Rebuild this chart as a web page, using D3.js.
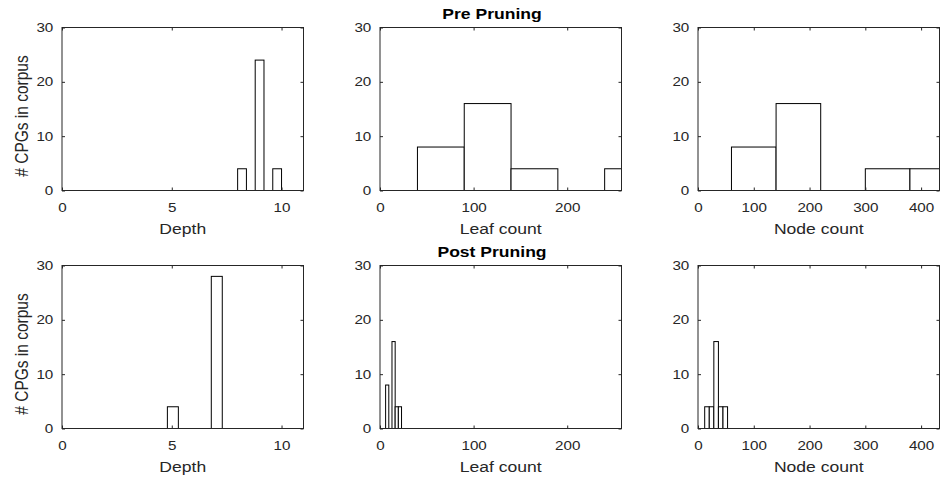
<!DOCTYPE html>
<html>
<head>
<meta charset="utf-8">
<script src="https://cdn.jsdelivr.net/npm/d3@7"></script>
<style>
  body { margin: 0; background: #ffffff; }
  svg { display: block; }
</style>
</head>
<body>
<svg id="chart" width="940" height="480"></svg>
<script>
// Histogram bins: edges (n+1) and counts (n) per panel.
const preDepthEdges = [8.0, 8.4, 8.8, 9.2, 9.6, 10.0];
const preDepthCounts = [4, 0, 24, 0, 4];
const preLeafEdges = [40, 90, 140, 190, 240, 290];
const preLeafCounts = [8, 16, 4, 0, 4];
const preNodeEdges = [60, 140, 220, 300, 380, 460];
const preNodeCounts = [8, 16, 0, 4, 4];

const postDepthEdges = [4.8, 5.3, 5.8, 6.3, 6.8, 7.3];
const postDepthCounts = [4, 0, 0, 0, 28];
const postLeafEdges = [6, 9.4, 12.8, 16.2, 19.6, 23];
const postLeafCounts = [8, 0, 16, 4, 4];
const postNodeEdges = [12, 20.2, 28.4, 36.6, 44.8, 53];
const postNodeCounts = [4, 4, 16, 4, 4];

const rowTitles = ['Pre Pruning', 'Post Pruning'];
const xLabels = ['Depth', 'Leaf count', 'Node count'];
const xMax = [11, 258, 433];
const xTicks = [[0, 5, 10], [0, 100, 200], [0, 100, 200, 300, 400]];
const yTicks = [0, 10, 20, 30];
const yLabel = '# CPGs in corpus';

const FONT = '"Liberation Sans", Arial, Helvetica, sans-serif';
const INK = '#262626';
const SX = 1.17;            // the source figure is slightly stretched horizontally

const PANEL_LEFT = [62, 380, 698];
const PANEL_W = 241.5;
const ROW_TOP = [27.5, 265.5];
const PANEL_H = 163;

const rows = [
  [
    { edges: preDepthEdges, counts: preDepthCounts },
    { edges: preLeafEdges, counts: preLeafCounts },
    { edges: preNodeEdges, counts: preNodeCounts }
  ],
  [
    { edges: postDepthEdges, counts: postDepthCounts },
    { edges: postLeafEdges, counts: postLeafCounts },
    { edges: postNodeEdges, counts: postNodeCounts }
  ]
];

const root = d3.select('#chart');
const defs = root.append('defs');

rows.forEach((panels, r) => {
  panels.forEach((hist, c) => drawPanel(r, c, hist));

  root.append('text')
    .attr('transform', `translate(492, ${ROW_TOP[r] - 8.2}) scale(${SX},1)`)
    .attr('text-anchor', 'middle')
    .attr('font-family', FONT)
    .attr('font-size', 15)
    .attr('font-weight', 700)
    .attr('fill', '#000000')
    .text(rowTitles[r]);

  root.append('text')
    .attr('transform', `translate(28.3, ${ROW_TOP[r] + PANEL_H / 2 + 7}) scale(${SX},1) rotate(-90)`)
    .attr('text-anchor', 'middle')
    .attr('font-family', FONT)
    .attr('font-size', 15.5)
    .attr('fill', INK)
    .text(yLabel);
});

function drawPanel(r, c, hist) {
  const left = PANEL_LEFT[c];
  const top = ROW_TOP[r];
  const x = d3.scaleLinear().domain([0, xMax[c]]).range([left, left + PANEL_W]);
  const y = d3.scaleLinear().domain([0, 30]).range([top + PANEL_H, top]);

  const clipId = `clip-${r}-${c}`;
  defs.append('clipPath').attr('id', clipId)
    .append('rect')
    .attr('x', left).attr('y', top - 1)
    .attr('width', PANEL_W).attr('height', PANEL_H + 2);

  const bins = hist.counts.map((n, i) => ({ x0: hist.edges[i], x1: hist.edges[i + 1], n }));

  const g = root.append('g');

  g.append('g')
    .attr('clip-path', `url(#${clipId})`)
    .selectAll('rect')
    .data(bins)
    .join('rect')
    .attr('x', (d) => x(d.x0))
    .attr('y', (d) => y(d.n))
    .attr('width', (d) => x(d.x1) - x(d.x0))
    .attr('height', (d) => y(0) - y(d.n))
    .attr('fill', '#ffffff')
    .attr('stroke', '#000000')
    .attr('stroke-width', 1);

  // inward ticks on all four sides, like a boxed MATLAB axes
  const bottom = g.append('g')
    .attr('transform', `translate(0, ${top + PANEL_H})`)
    .call(d3.axisBottom(x).tickValues(xTicks[c]).tickSizeInner(-3).tickSizeOuter(0).tickPadding(12.1));
  const leftAx = g.append('g')
    .attr('transform', `translate(${left}, 0)`)
    .call(d3.axisLeft(y).tickValues(yTicks).tickSizeInner(-3).tickSizeOuter(0));
  g.append('g')
    .attr('transform', `translate(0, ${top})`)
    .call(d3.axisTop(x).tickValues(xTicks[c]).tickSizeInner(-3).tickSizeOuter(0).tickFormat(''));
  g.append('g')
    .attr('transform', `translate(${left + PANEL_W}, 0)`)
    .call(d3.axisRight(y).tickValues(yTicks).tickSizeInner(-3).tickSizeOuter(0).tickFormat(''));

  g.selectAll('.domain').remove();
  g.selectAll('.tick line').attr('stroke', INK);
  g.selectAll('.tick text')
    .attr('fill', INK)
    .attr('font-family', FONT)
    .attr('font-size', 13);

  bottom.selectAll('.tick text').attr('transform', `scale(${SX},1)`);
  leftAx.selectAll('.tick text')
    .attr('x', -8.7 / SX)
    .attr('transform', `scale(${SX},1)`);

  g.append('rect')
    .attr('x', left)
    .attr('y', top)
    .attr('width', PANEL_W)
    .attr('height', PANEL_H)
    .attr('fill', 'none')
    .attr('stroke', INK)
    .attr('stroke-width', 1);

  g.append('text')
    .attr('transform', `translate(${left + PANEL_W / 2}, ${top + PANEL_H + 43.5}) scale(${SX},1)`)
    .attr('text-anchor', 'middle')
    .attr('font-family', FONT)
    .attr('font-size', 15)
    .attr('fill', INK)
    .text(xLabels[c]);
}
</script>
</body>
</html>
